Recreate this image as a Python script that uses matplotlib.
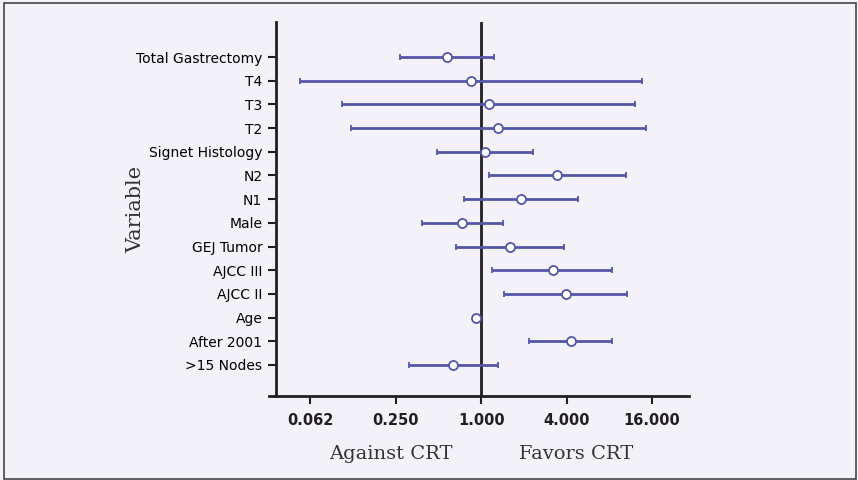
import numpy as np
import matplotlib.pyplot as plt
from matplotlib.patches import Rectangle

# variables listed bottom to top
variables = ['>15 Nodes', 'After 2001', 'Age', 'AJCC II', 'AJCC III', 'GEJ Tumor',
             'Male', 'N1', 'N2', 'Signet Histology', 'T2', 'T3', 'T4',
             'Total Gastrectomy']
hazard = [0.634, 4.29, 0.927, 3.98, 3.19, 1.593,
          0.735, 1.905, 3.45, 1.072, 1.325, 1.133, 0.846,
          0.575]
ci_low = [0.309, 2.18, 0.927, 1.453, 1.19, 0.670,
          0.383, 0.755, 1.133, 0.489, 0.121, 0.104, 0.0529,
          0.268]
ci_high = [1.31, 8.40, 0.927, 10.72, 8.44, 3.81,
           1.42, 4.83, 10.55, 2.33, 14.66, 12.2, 13.67,
           1.235]
xticks = [0.0625, 0.25, 1.0, 4.0, 16.0]
xtick_labels = ['0.062', '0.250', '1.000', '4.000', '16.000']

bg = '#f2f2f8'
blue = '#5356a6'
dark = '#231f20'

fig = plt.figure(figsize=(8.58, 4.8), dpi=100, facecolor=bg)
fig.patches.append(Rectangle((0.005, 0.003), 0.993, 0.99, transform=fig.transFigure,
                             fill=False, edgecolor='#444444', linewidth=1.2))

ax = fig.add_axes([269 / 858, 1 - 396 / 480, (689 - 269) / 858, (396 - 22) / 480])
ax.set_facecolor(bg)
ax.set_xscale('log', base=2)

y = np.arange(len(variables))
h = np.array(hazard)
lo = h - np.array(ci_low)
hi = np.array(ci_high) - h

ax.axvline(1.0, color=dark, linewidth=2, zorder=1)
ax.errorbar(h, y, xerr=[lo, hi], fmt='o', color=blue, ecolor=blue,
            elinewidth=2.0, capsize=2.2, capthick=1.6,
            markersize=6.5, markerfacecolor='white', markeredgecolor=blue,
            markeredgewidth=1.3, zorder=3)

ax.set_xlim(2 ** -4.97, 2 ** 4.87)
ax.set_ylim(-1.31, len(variables) - 1 + 1.48)

ax.set_xticks(xticks)
ax.set_xticklabels(xtick_labels, fontsize=10.5, fontweight='bold', color=dark)
ax.xaxis.set_minor_locator(plt.NullLocator())
ax.set_yticks(y)
ax.set_yticklabels(variables, color=dark, fontsize=10.5,
                   family=['Roboto', 'DejaVu Sans'])

ax.spines['top'].set_visible(False)
ax.spines['right'].set_visible(False)
ax.spines['left'].set_position(('data', 2 ** -4.80))
for side in ['left', 'bottom']:
    ax.spines[side].set_linewidth(2)
    ax.spines[side].set_color(dark)
ax.tick_params(axis='both', length=6, width=1.5, color=dark)
ax.tick_params(axis='x', pad=6)
ax.tick_params(axis='y', pad=4)

ax.set_ylabel('Variable', fontsize=15, family='DejaVu Serif', color='#333333')
ax.yaxis.set_label_coords((145 - 269) / 420, 0.5)
fig.text(391 / 858, 1 - 454 / 480, 'Against CRT', fontsize=14, family='DejaVu Serif',
         color='#333333', ha='center', va='center')
fig.text(576 / 858, 1 - 454 / 480, 'Favors CRT', fontsize=14, family='DejaVu Serif',
         color='#333333', ha='center', va='center')

fig.savefig('out.png', dpi=100, facecolor=bg)
